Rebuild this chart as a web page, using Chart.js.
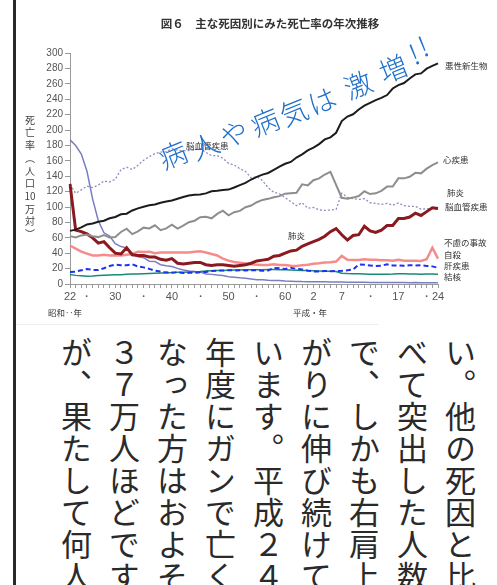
<!DOCTYPE html>
<html lang="ja">
<head>
<meta charset="UTF-8">
<title>主な死因別にみた死亡率の年次推移</title>
<script src="https://cdn.jsdelivr.net/npm/chart.js"></script>
<style>
    body { margin: 0; width: 497px; height: 585px; overflow: hidden; background: #fff; position: relative; }
    #edge { position: absolute; left: 13px; top: 0; width: 3px; height: 585px; background: #2a2a2a; }
    #rule { position: absolute; left: 16px; top: 324px; width: 362px; height: 1px; background: #ececec; }
    #c { position: absolute; left: 0; top: 0; }
    #honbun {
        position: absolute; top: 337px; right: 13px;
        writing-mode: vertical-rl; white-space: pre;
        font: 31px 'Noto Sans CJK JP', sans-serif; line-height: 48px; letter-spacing: 1px;
        color: #2a2a2a;
    }
</style>
</head>
<body>
<div id="edge"></div>
<canvas id="c" width="497" height="330"></canvas>
<div id="rule"></div>
<div id="honbun"></div>

<script>
// 年（1947=昭和22 〜 2012=平成24）
const years = [];
for (let y = 1947; y <= 2012; y++) years.push(y);

// 目盛り
const tickYears = [1947, 1950, 1955, 1960, 1965, 1970, 1975, 1980, 1985, 1990, 1995, 2000, 2005, 2010, 2012];
const tickTexts = ['22', '・', '30', '・', '40', '・', '50', '・', '60', '2', '7', '・', '17', '・', '24'];
const yTicks = [0, 20, 40, 60, 80, 100, 120, 140, 160, 180, 200, 220, 240, 260, 280, 300];

// 死亡率（人口10万対）
const akusei = [69.0,70.6,73.5,77.4,78.5,80.8,82.2,85.3,87.1,90.5,
    91.3,95.5,98.2,100.4,102.3,103.2,105.5,107.2,108.4,110.8,
    113.0,114.9,116.0,116.3,117.7,120.4,121.2,122.2,122.6,125.3,
    128.4,131.3,135.7,139.1,142.0,144.2,148.3,152.5,156.1,158.5,
    164.2,168.4,173.6,177.2,181.7,187.8,190.4,196.4,211.6,217.5,
    220.4,226.7,231.6,235.2,238.8,241.7,245.4,253.9,258.3,261.0,
    266.9,272.3,273.5,279.7,283.2,286.6];
const shinshikkan = [62.2,60.5,63.1,64.2,62.0,60.9,63.6,60.5,60.9,67.6,
    71.8,64.8,68.4,73.2,72.1,76.2,69.9,72.2,77.0,71.9,
    75.7,80.2,82.2,86.7,87.4,85.3,91.0,95.3,89.2,93.2,
    95.0,99.7,101.9,106.2,109.2,110.6,112.7,114.1,117.3,117.9,
    118.4,129.4,128.1,134.8,137.2,142.2,145.6,128.6,112.0,110.8,
    112.2,114.3,120.4,116.8,117.8,121.0,126.5,126.5,137.2,137.2,
    139.2,144.4,143.7,149.8,154.5,157.9];
const noukekkan = [129.4,117.9,122.2,127.1,125.2,128.5,133.7,132.4,136.1,148.4,
    151.7,148.6,154.1,160.7,165.4,169.4,171.4,171.7,175.8,173.8,
    173.1,173.1,174.4,175.8,170.9,166.7,166.8,163.2,156.7,154.5,
    149.8,146.2,137.7,139.5,134.3,125.0,119.1,117.2,112.2,106.9,
    101.7,105.5,98.5,99.4,96.2,95.6,96.0,96.9,117.9,112.6,
    111.0,110.0,110.8,105.5,104.7,103.4,104.7,102.3,105.3,101.7,
    100.8,100.9,97.2,97.7,98.2,96.5];
const haien = [130,70,68,65,60,53,55,47,40,39,
    47,38,37,37,35,35,32,31,33,27,
    26,27,28,28,25,24,25,25,24,23,
    24,25,27,30,31,32,36,37,40,43,
    44,49,52,55,58,62,68,72,64,57,
    63,64,75,69,67,70,76,76,85,85,
    87,92,89,94,99,98];
const furyo = [50,46,42,39.5,37,37,38,37,37.3,37,
    38,39,42,41.7,42,40,41,41,40.9,41,
    41,41,42,42.5,41,39,37,33,30.3,28.5,
    27.6,26.5,25.5,25.1,24.7,24.7,25.5,24.8,24.6,23.8,
    23.5,24.5,25.1,26.2,26.9,28.0,28.1,29.1,36.5,31.4,
    31.1,31.1,32.0,31.4,31.4,30.7,30.7,30.3,31.6,30.3,
    30.1,30.3,29.8,32.2,47.1,33.0];
const jisatsu = [15.7,16.1,17.8,19.6,18.2,18.2,20.4,23.4,25.2,24.5,
    24.3,25.7,22.7,21.6,19.6,17.3,16.1,15.1,14.7,15.2,
    14.2,14.5,14.5,15.3,15.6,17.0,17.4,17.5,18.0,17.6,
    17.9,17.6,18.0,17.7,17.1,17.5,21.0,20.4,19.4,21.2,
    19.6,19.0,17.3,16.4,16.1,16.9,16.6,16.9,17.2,17.8,
    18.8,25.4,25.0,24.1,23.3,23.8,25.5,24.0,24.2,23.7,
    24.4,24.0,24.4,23.4,22.9,21.0];
const kanshikkan = [12.4,11.2,10.6,10.1,10.4,10.9,11.3,11.8,12.1,12.0,
    12.6,12.9,13.1,13.4,13.6,13.9,14.3,14.4,14.8,15.1,
    15.3,15.6,15.9,16.2,16.8,17.2,17.5,17.6,17.9,18.1,
    18.2,18.4,18.5,18.6,18.6,18.8,18.7,18.5,18.4,18.2,
    17.9,17.6,17.4,17.1,16.9,16.7,16.4,16.3,13.9,13.5,
    13.4,13.2,13.0,12.8,12.6,12.7,12.8,12.9,13.4,13.2,
    13.1,13.0,12.8,13.1,12.9,12.8];
const kekkaku = [187.2,179.9,168.8,146.4,110.3,82.2,66.5,62.4,52.3,48.6,
    46.9,39.5,35.5,34.2,29.6,29.3,25.1,23.6,22.8,20.3,
    18.3,16.8,16.1,15.4,13.0,12.5,11.6,10.9,9.5,8.9,
    8.0,7.6,6.6,5.5,5.4,4.8,4.6,4.5,3.9,3.7,
    3.4,3.1,3.0,3.0,2.8,2.8,2.6,2.6,2.6,2.3,
    2.2,2.2,2.3,2.1,2.0,1.8,1.9,1.8,1.8,1.8,
    1.7,1.8,1.7,1.7,1.7,1.7];

const jp = "'Noto Sans CJK JP', sans-serif";

// 本文（縦書き、右の行から）
const honbun = [
    'い。他の死因と比',
    'べて突出した人数',
    'で、しかも右肩上',
    'がりに伸び続けて',
    'います。平成２４',
    '年度にガンで亡く',
    'なった方はおよそ',
    '３７万人ほどです',
    'が、果たして何人'
];
document.getElementById('honbun').textContent = honbun.join('\n');

// 文字の配置（グラフ周りの注記）
const labels = [
    { t: '悪性新生物', x: 445, y: 66 },
    { t: '心疾患', x: 443, y: 160 },
    { t: '肺炎', x: 447, y: 193 },
    { t: '脳血管疾患', x: 445, y: 207 },
    { t: '不慮の事故', x: 444, y: 243 },
    { t: '自殺', x: 444, y: 255 },
    { t: '肝疾患', x: 444, y: 266 },
    { t: '結核', x: 444, y: 277 },
    { t: '脳血管疾患', x: 186, y: 146 },
    { t: '肺炎', x: 288, y: 236 },
    { t: '昭和‥年', x: 48, y: 313 },
    { t: '平成・年', x: 293, y: 313 }
];
const yTitle = ['死', '亡', '率', '︵', '人', '口', '10', '万', '対', '︶'];
const memo = [
    { t: '病', x: 173, y: 155 }, { t: '人', x: 205, y: 146 }, { t: 'や', x: 234, y: 134 },
    { t: '病', x: 265, y: 122 }, { t: '気', x: 294, y: 112 }, { t: 'は', x: 322, y: 101 },
    { t: '激', x: 358, y: 85 }, { t: '増', x: 393, y: 69 }, { t: '!', x: 414, y: 54 },
    { t: '!', x: 423, y: 46 }
];

const textPlugin = {
    id: 'texts',
    afterDraw(chart) {
        const ctx = chart.ctx;
        ctx.save();
        ctx.textBaseline = 'middle';

        ctx.fillStyle = '#333';
        ctx.textAlign = 'center';
        ctx.font = 'bold 11.5px ' + jp;
        ctx.fillText('図６　主な死因別にみた死亡率の年次推移', 270, 24);

        ctx.font = '10px ' + jp;
        ctx.fillStyle = '#444';
        yTitle.forEach((ch, i) => ctx.fillText(ch, 30, 120 + i * 12.7));

        ctx.textAlign = 'left';
        ctx.font = '8.5px ' + jp;
        ctx.fillStyle = '#333';
        labels.forEach(l => ctx.fillText(l.t, l.x, l.y));

        // 手書きの書き込み
        ctx.fillStyle = '#1f6fca';
        ctx.textAlign = 'center';
        ctx.font = '300 28px ' + jp;
        memo.forEach(m => {
            ctx.save();
            ctx.translate(m.x, m.y);
            ctx.rotate(-22 * Math.PI / 180);
            ctx.fillText(m.t, 0, 0);
            ctx.restore();
        });
        ctx.restore();
    }
};

function line(data, color, width, dash) {
    return {
        data: data,
        borderColor: color,
        borderWidth: width,
        borderDash: dash || [],
        pointRadius: 0,
        tension: 0,
        fill: false
    };
}

new Chart(document.getElementById('c'), {
    type: 'line',
    data: {
        labels: years,
        datasets: [
            line(akusei, '#1c1c1c', 2),
            line(shinshikkan, '#8e8e8e', 2),
            line(haien, '#8a1a1f', 3),
            line(noukekkan, '#8c8cc2', 1.3, [2, 2]),
            line(furyo, '#f58c8c', 2.5),
            line(jisatsu, '#2030ee', 2, [5, 3]),
            line(kanshikkan, '#178a78', 1.5),
            line(kekkaku, '#7a7ec0', 1.5)
        ]
    },
    options: {
        responsive: false,
        animation: false,
        devicePixelRatio: 1,
        layout: { padding: { top: 53, right: 59, left: 0, bottom: 0 } },
        plugins: { legend: { display: false }, tooltip: { enabled: false } },
        scales: {
            x: {
                afterFit: s => { s.height = 46; },
                grid: { drawOnChartArea: false, tickLength: 4, color: '#999' },
                border: { color: '#999' },
                ticks: {
                    autoSkip: false, maxRotation: 0, minRotation: 0, padding: 2,
                    color: '#555', font: { size: 11, family: 'Liberation Sans' },
                    callback: (v, i) => {
                        const k = tickYears.indexOf(years[i]);
                        return k >= 0 ? tickTexts[k] : '';
                    }
                }
            },
            y: {
                min: 0, max: 300,
                afterFit: s => { s.width = 70; },
                afterBuildTicks: s => { s.ticks = yTicks.map(v => ({ value: v })); },
                grid: { drawOnChartArea: false, tickLength: 5, color: '#999' },
                border: { color: '#999' },
                ticks: {
                    padding: 2, color: '#555',
                    font: { size: 10, family: 'Liberation Sans' }
                }
            }
        }
    },
    plugins: [textPlugin]
});
</script>
</body>
</html>
